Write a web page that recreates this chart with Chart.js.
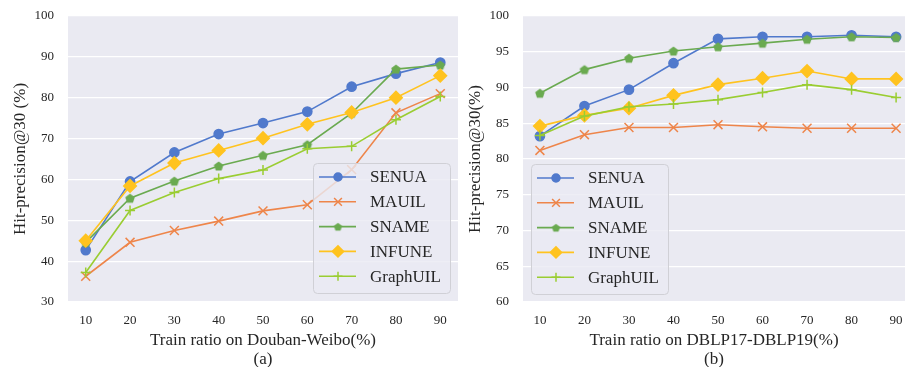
<!DOCTYPE html>
<html>
<head>
<meta charset="utf-8">
<script src="https://cdn.jsdelivr.net/npm/chart.js@4.4.0/dist/chart.umd.min.js"></script>
<style>
  html, body { margin: 0; padding: 0; background: #ffffff; }
  #wrap { position: relative; width: 905px; height: 367px; overflow: hidden; }
  #leftBox { position: absolute; left: 0; top: 0; width: 462px; height: 367px; }
  #rightBox { position: absolute; left: 462px; top: 0; width: 443px; height: 367px; }
</style>
</head>
<body>
<div id="wrap">
  <div id="leftBox"><canvas id="chartA" width="462" height="367"></canvas></div>
  <div id="rightBox"><canvas id="chartB" width="443" height="367"></canvas></div>
</div>
<script>
// train ratios (x axis)
const ratios = [10, 20, 30, 40, 50, 60, 70, 80, 90];
const methods = ['SENUA', 'MAUIL', 'SNAME', 'INFUNE', 'GraphUIL'];

// (a) Douban-Weibo
const senuaA = [42.7, 59.5, 66.6, 71.1, 73.8, 76.6, 82.7, 85.9, 88.6];
const mauilA = [36.3, 44.6, 47.5, 49.8, 52.3, 53.8, 62.4, 76.3, 81.0];
const snameA = [44.6, 55.4, 59.6, 63.3, 65.9, 68.5, 76.2, 87.0, 88.0];
const infuneA = [45.0, 58.4, 64.0, 67.1, 70.1, 73.5, 76.4, 80.0, 85.4];
const graphuilA = [37.2, 52.4, 56.8, 60.2, 62.3, 67.5, 68.1, 74.6, 80.3];

// (b) DBLP17-DBLP19
const senuaB = [83.2, 87.4, 89.7, 93.4, 96.8, 97.1, 97.1, 97.3, 97.1];
const mauilB = [81.2, 83.4, 84.4, 84.4, 84.8, 84.5, 84.3, 84.3, 84.3];
const snameB = [89.2, 92.5, 94.1, 95.1, 95.7, 96.2, 96.75, 97.1, 97.0];
const infuneB = [84.6, 86.1, 87.1, 88.9, 90.4, 91.3, 92.3, 91.2, 91.2];
const graphuilB = [83.3, 86.0, 87.3, 87.7, 88.3, 89.3, 90.4, 89.7, 88.6];

// y tick labels
const yTicksA = [30, 40, 50, 60, 70, 80, 90, 100];
const yTicksB = [60, 65, 70, 75, 80, 85, 90, 95, 100];

const serif = '"Liberation Serif", "Times New Roman", serif';
const textColor = '#262626';
const plotBg = '#eaeaf2';

// pentagon marker for SNAME
function pentagon(color, r) {
  const c = document.createElement('canvas');
  const s = Math.ceil(r * 2 + 2);
  c.width = s; c.height = s;
  const g = c.getContext('2d');
  g.fillStyle = color;
  g.beginPath();
  for (let i = 0; i < 5; i++) {
    const a = -Math.PI / 2 + i * 2 * Math.PI / 5;
    const px = s / 2 + r * Math.cos(a), py = s / 2 + r * Math.sin(a) + 0.5;
    if (i === 0) g.moveTo(px, py); else g.lineTo(px, py);
  }
  g.closePath();
  g.fill();
  return c;
}

const looks = [
  { color: '#5079cc', pointStyle: 'circle', radius: 4.6 },
  { color: '#ee854a', pointStyle: 'crossRot', radius: 6.3 },
  { color: '#6aaa50', pointStyle: pentagon('#6aaa50', 5), radius: 5 },
  { color: '#ffc31f', pointStyle: 'rectRot', radius: 6.3 },
  { color: '#9acd32', pointStyle: 'cross', radius: 5 }
];
const legendLooks = [
  { pointStyle: 'circle', radius: 4 },
  { pointStyle: 'crossRot', radius: 5.5 },
  { pointStyle: pentagon('#6aaa50', 4.3), radius: 4.3 },
  { pointStyle: 'rectRot', radius: 5.6 },
  { pointStyle: 'cross', radius: 4.5 }
];

function makeDatasets(series) {
  return series.map(function (vals, i) {
    const lk = looks[i];
    return {
      label: methods[i],
      data: ratios.map(function (r, j) { return { x: r, y: vals[j] }; }),
      borderColor: lk.color,
      backgroundColor: lk.color,
      pointBorderColor: lk.color,
      pointBackgroundColor: lk.color,
      pointStyle: lk.pointStyle,
      pointRadius: lk.radius,
      pointHoverRadius: lk.radius,
      pointBorderWidth: 1.5,
      borderWidth: 1.6,
      fill: false,
      tension: 0,
      clip: 10,
      order: 5 - i
    };
  });
}

// grey plot background
const bgPlugin = {
  id: 'bg',
  beforeDraw(chart) {
    const a = chart.chartArea, ctx = chart.ctx;
    ctx.save();
    ctx.fillStyle = plotBg;
    ctx.fillRect(a.left, a.top, a.right - a.left, a.bottom - a.top);
    ctx.restore();
  }
};

// matplotlib-like legend box inside the plot
const boxLegend = {
  id: 'boxLegend',
  afterDatasetsDraw(chart, args, opts) {
    const a = chart.chartArea, ctx = chart.ctx;
    const w = 137, h = 130;
    const x0 = opts.side === 'right' ? a.right - 8 - w : a.left + 8;
    const y0 = a.bottom - opts.bottom - h;
    ctx.save();
    ctx.beginPath();
    ctx.roundRect(x0 + 0.5, y0 + 0.5, w, h, 4);
    ctx.fillStyle = 'rgba(234,234,242,0.8)';
    ctx.fill();
    ctx.strokeStyle = '#d0d0d6';
    ctx.lineWidth = 1;
    ctx.stroke();
    chart.data.datasets.forEach(function (ds, i) {
      const y = y0 + 14 + i * 24.8;
      ctx.strokeStyle = ds.borderColor;
      ctx.lineWidth = 1.6;
      ctx.beginPath();
      ctx.moveTo(x0 + 6, y);
      ctx.lineTo(x0 + 43, y);
      ctx.stroke();
      ctx.fillStyle = ds.pointBackgroundColor;
      ctx.strokeStyle = ds.pointBorderColor;
      ctx.lineWidth = 1.5;
      Chart.helpers.drawPoint(ctx, { pointStyle: legendLooks[i].pointStyle, radius: legendLooks[i].radius, rotation: 0, borderWidth: 1.5 }, x0 + 25, y);
      ctx.fillStyle = textColor;
      ctx.font = '17px ' + serif;
      ctx.textBaseline = 'middle';
      ctx.textAlign = 'left';
      ctx.fillText(ds.label, x0 + 57, y + 1);
    });
    ctx.restore();
  }
};

function makeChart(id, series, yTicks, opt) {
  const ctx = document.getElementById(id).getContext('2d');
  return new Chart(ctx, {
    type: 'line',
    data: { datasets: makeDatasets(series) },
    plugins: [bgPlugin, boxLegend],
    options: {
      responsive: false,
      animation: false,
      devicePixelRatio: 1,
      layout: { autoPadding: false, padding: { top: 16, right: opt.padRight, left: 0, bottom: 0 } },
      scales: {
        x: {
          type: 'linear',
          min: opt.xMin,
          max: opt.xMax,
          afterBuildTicks: function (scale) { scale.ticks = ratios.map(function (v) { return { value: v }; }); },
          afterFit: function (scale) {
            scale.height = 65;
            scale.paddingLeft = 0; scale.paddingRight = 0;
          },
          grid: { display: false, drawTicks: true, tickLength: 11 },
          border: { display: false },
          ticks: { color: textColor, font: { family: serif, size: 13 }, padding: 0, maxRotation: 0, autoSkip: false },
          title: {
            display: true,
            text: [opt.xTitle, opt.sub],
            color: textColor,
            font: { family: serif, size: 17, lineHeight: 1.12 },
            padding: { top: 0, bottom: -2.5 }
          }
        },
        y: {
          min: yTicks[0],
          max: yTicks[yTicks.length - 1],
          afterBuildTicks: function (scale) { scale.ticks = yTicks.map(function (v) { return { value: v }; }); },
          afterFit: function (scale) {
            scale.width = opt.yWidth;
            scale.paddingTop = 0; scale.paddingBottom = 0;
          },
          grid: { color: '#ffffff', lineWidth: 1.2, drawTicks: true, tickLength: 14 },
          border: { display: false },
          ticks: { color: textColor, font: { family: serif, size: 13 }, padding: 0 },
          title: {
            display: true,
            text: opt.yTitle,
            color: textColor,
            font: { family: serif, size: 17, lineHeight: 1.2 },
            padding: { top: opt.yTitlePad, bottom: 0 }
          }
        }
      },
      plugins: {
        legend: { display: false },
        tooltip: { enabled: false },
        boxLegend: { side: opt.legendSide, bottom: opt.legendBottom }
      }
    }
  });
}

makeChart('chartA', [senuaA, mauilA, snameA, infuneA, graphuilA], yTicksA, {
  xMin: 6, xMax: 94, padRight: 4, yWidth: 68, yTitlePad: 10,
  xTitle: 'Train ratio on Douban-Weibo(%)', sub: '(a)',
  yTitle: 'Hit-precision@30 (%)', legendSide: 'right', legendBottom: 9
});

makeChart('chartB', [senuaB, mauilB, snameB, infuneB, graphuilB], yTicksB, {
  xMin: 6.2, xMax: 92, padRight: 0, yWidth: 61, yTitlePad: 3,
  xTitle: 'Train ratio on DBLP17-DBLP19(%)', sub: '(b)',
  yTitle: 'Hit-precision@30(%)', legendSide: 'left', legendBottom: 8
});
</script>
</body>
</html>
